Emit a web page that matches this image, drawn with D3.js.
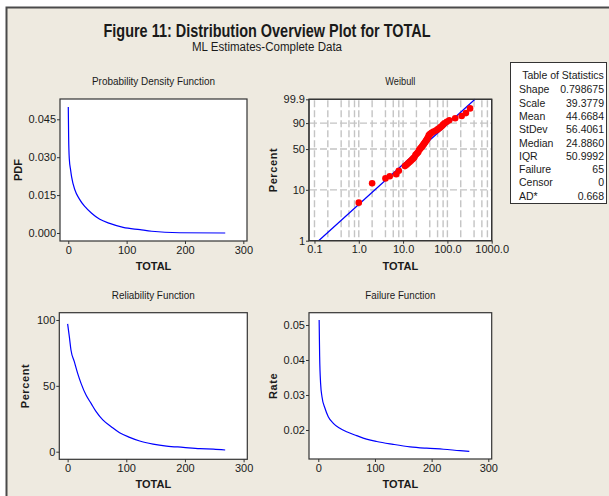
<!DOCTYPE html>
<html lang="en">
<head>
<meta charset="UTF-8">
<title>Distribution Overview Plot for TOTAL</title>
<script src="https://d3js.org/d3.v7.min.js"></script>
<style>
  body { margin: 0; background: #fff; }
  text { font-family: "Liberation Sans", Arial, sans-serif; fill: #1a1a1a; }
  .tick text { font-size: 11px; }
  .tick line { stroke: #333; }
  .axis-label { font-size: 11px; font-weight: bold; }
  .panel-title { font-size: 10.5px; }
  .frame { fill: #fff; stroke: #333; stroke-width: 1.2; }
  .curve { fill: none; stroke: #0000ff; stroke-width: 1.2; }
  .grid { stroke: #c4c4c4; stroke-width: 1.4; stroke-dasharray: 7,3; }
  .stats text { font-size: 10.5px; }
</style>
</head>
<body>
<svg width="609" height="496"></svg>
<script>
// values
const pdfTotal = [0, 0.6, 1.7, 4.0, 5.7, 11.4, 18.3, 28.6, 40, 54, 71, 94, 123, 143, 191, 269];
const pdfValue = [0.0499, 0.0380, 0.0295, 0.0249, 0.0222, 0.0170, 0.0137, 0.0104, 0.0078, 0.0054, 0.0038, 0.0022, 0.0013, 0.0007, 0.0001, 0.0];

const relTotal = [0, 2.9, 5.7, 11.4, 17.1, 22.9, 31.4, 40, 48.6, 60, 74.3, 88.6, 105.7, 122.9, 145.7, 168.6, 197, 225.7, 248.6, 268.6];
const relPercent = [97.0, 87.4, 77.2, 68.4, 59.5, 51.9, 43.0, 36.7, 30.4, 24.1, 19.0, 14.4, 10.9, 8.1, 5.8, 4.3, 3.3, 2.3, 2.0, 1.3];

const hazTotal = [1.5, 2.4, 4.1, 6.5, 11.8, 17.6, 26.5, 38, 50, 67.6, 85, 103, 132, 162, 191, 221, 250, 266.5];
const hazRate = [0.0514, 0.0410, 0.0333, 0.0295, 0.0262, 0.0238, 0.0219, 0.0205, 0.0195, 0.0184, 0.0174, 0.0167, 0.0159, 0.0152, 0.0148, 0.0145, 0.0141, 0.0139];

const wbTotal = [1, 2, 4, 5, 7, 8, 11, 12, 13, 14, 15, 16, 17, 18, 19, 20, 21, 22, 23, 24, 25, 26, 27, 28, 29, 30, 31, 32,
  33, 34, 35, 36, 37, 38, 40, 42, 45, 49, 55, 60, 65, 70, 75, 80, 86, 97, 110, 150, 210, 262, 325];
const wbPercent = [5.66, 13.30, 16.36, 17.89, 19.42, 22.48, 27.06, 28.59, 30.12, 31.65, 33.18, 34.71, 36.24, 37.77,
  40.83, 42.35, 43.88, 45.41, 48.47, 50.00, 51.53, 53.06, 54.59, 56.12, 57.65, 59.17, 60.70, 62.23,
  63.76, 65.29, 66.82, 68.35, 69.88, 72.94, 74.46, 75.99, 77.52, 79.05, 80.58, 82.11, 83.64, 85.17,
  86.70, 88.23, 89.76, 91.28, 92.81, 94.34, 95.87, 97.40, 98.93];
const fitTotal = [0.124, 420];
const fitPercent = [1, 99.9];

const wbXTicks = [0.1, 1, 10, 100, 1000];
const wbXLabels = ["0.1", "1.0", "10.0", "100.0", "1000.0"];
const wbYTicks = [1, 10, 50, 90, 99.9];
const wbYLabels = ["1", "10", "50", "90", "99.9"];

const statLabels = ["Shape", "Scale", "Mean", "StDev", "Median", "IQR", "Failure", "Censor", "AD*"];
const statValues = ["0.798675", "39.3779", "44.6684", "56.4061", "24.8860", "50.9992", "65", "0", "0.668"];

const svg = d3.select("svg");
svg.append("rect").attr("width", 609).attr("height", 496).attr("fill", "#fff");
svg.append("rect").attr("x", 6).attr("y", 7).attr("width", 603).attr("height", 489).attr("fill", "#eeeae0");
svg.append("path").attr("d", "M6.5,496V7.5H609").attr("fill", "none").attr("stroke", "#4a4a4a").attr("stroke-width", 2);

svg.append("text").attr("x", 267).attr("y", 37).attr("text-anchor", "middle")
  .attr("font-size", 18).attr("font-weight", "bold")
  .attr("textLength", 327).attr("lengthAdjust", "spacingAndGlyphs")
  .text("Figure 11: Distribution Overview Plot for TOTAL");
svg.append("text").attr("x", 267).attr("y", 51).attr("text-anchor", "middle")
  .attr("font-size", 12.5)
  .attr("textLength", 150).attr("lengthAdjust", "spacingAndGlyphs")
  .text("ML Estimates-Complete Data");

// frame, title and axis labels of one panel
function panel(box, title, titleLen, yLabel, yLabelX) {
  const g = svg.append("g");
  g.append("rect").attr("class", "frame")
    .attr("x", box.x0).attr("y", box.y0)
    .attr("width", box.x1 - box.x0).attr("height", box.y1 - box.y0);
  const cx = (box.x0 + box.x1) / 2;
  g.append("text").attr("class", "panel-title").attr("x", cx).attr("y", box.y0 - 14)
    .attr("text-anchor", "middle")
    .attr("textLength", titleLen).attr("lengthAdjust", "spacingAndGlyphs")
    .text(title);
  g.append("text").attr("class", "axis-label").attr("x", cx).attr("y", box.y1 + 29)
    .attr("text-anchor", "middle").text("TOTAL");
  g.append("text").attr("class", "axis-label")
    .attr("transform", `translate(${yLabelX},${(box.y0 + box.y1) / 2}) rotate(-90)`)
    .attr("text-anchor", "middle").attr("dy", "0.35em")
    .attr("letter-spacing", yLabel === "PDF" ? 0 : 0.6)
    .text(yLabel);
  return g;
}

function axes(g, box, x, y, xAxis, yAxis) {
  g.append("g").attr("transform", `translate(0,${box.y1})`)
    .call(xAxis.tickSize(3).tickPadding(2))
    .call(a => a.select(".domain").remove());
  g.append("g").attr("transform", `translate(${box.x0},0)`)
    .call(yAxis.tickSize(3).tickPadding(1))
    .call(a => a.select(".domain").remove());
}

// Probability Density Function
const b1 = { x0: 60, x1: 247, y0: 99, y1: 241 };
const g1 = panel(b1, "Probability Density Function", 123, "PDF", 18);
const x1 = d3.scaleLinear().domain([-14.2, 306.3]).range([b1.x0, b1.x1]);
const y1 = d3.scaleLinear().domain([-0.00317, 0.05303]).range([b1.y1, b1.y0]);
g1.append("path").attr("class", "curve")
  .attr("d", d3.line().x(d => x1(d[0])).y(d => y1(d[1])).curve(d3.curveMonotoneX)(d3.zip(pdfTotal, pdfValue)));
axes(g1, b1, x1, y1,
  d3.axisBottom(x1).tickValues([0, 100, 200, 300]),
  d3.axisLeft(y1).tickValues([0, 0.015, 0.03, 0.045]).tickFormat(d3.format(".3f")));

// Weibull probability plot
const b2 = { x0: 309, x1: 491.7, y0: 99.3, y1: 240.7 };
const g2 = panel(b2, "Weibull", 30, "Percent", 273);
const wb = p => Math.log(-Math.log(1 - p / 100));
const x2 = d3.scaleLog().domain([0.0752, 1000]).range([b2.x0, b2.x1]);
const y2 = d3.scaleLinear().domain([wb(1), wb(99.9)]).range([b2.y1, b2.y0]);
const gridX = [];
[0.1, 1, 10, 100].forEach(dec => [1, 2, 4, 6, 8].forEach(k => gridX.push(k * dec)));
g2.append("g").selectAll("line").data(gridX.filter(v => v > 0.08)).join("line")
  .attr("class", "grid")
  .attr("x1", d => x2(d)).attr("x2", d => x2(d))
  .attr("y1", b2.y0 + 1).attr("y2", b2.y1 - 1);
g2.append("g").selectAll("line").data([10, 50, 90]).join("line")
  .attr("class", "grid")
  .attr("x1", b2.x0 + 1).attr("x2", b2.x1 - 1)
  .attr("y1", d => y2(wb(d))).attr("y2", d => y2(wb(d)));
g2.append("path").attr("class", "curve")
  .attr("d", d3.line().x(d => x2(d[0])).y(d => y2(wb(d[1])))(d3.zip(fitTotal, fitPercent)));
g2.append("g").selectAll("circle").data(d3.zip(wbTotal, wbPercent)).join("circle")
  .attr("cx", d => x2(d[0])).attr("cy", d => y2(wb(d[1])))
  .attr("r", 3.3).attr("fill", "#ff0000");
g2.append("rect").attr("x", b2.x0).attr("y", b2.y0)
  .attr("width", b2.x1 - b2.x0).attr("height", b2.y1 - b2.y0)
  .attr("fill", "none").attr("stroke", "#333").attr("stroke-width", 1.2);
axes(g2, b2, x2, y2,
  d3.axisBottom(x2).tickValues(wbXTicks).tickFormat((d, i) => wbXLabels[i]),
  d3.axisLeft(y2).tickValues(wbYTicks.map(wb)).tickFormat((d, i) => wbYLabels[i]));

// Reliability Function
const b3 = { x0: 59.3, x1: 247.3, y0: 312.7, y1: 459.3 };
const g3 = panel(b3, "Reliability Function", 83, "Percent", 25);
const x3 = d3.scaleLinear().domain([-14.2, 306.3]).range([b3.x0, b3.x1]);
const y3 = d3.scaleLinear().domain([-5.77, 105.54]).range([b3.y1, b3.y0]);
g3.append("path").attr("class", "curve")
  .attr("d", d3.line().x(d => x3(d[0])).y(d => y3(d[1])).curve(d3.curveMonotoneX)(d3.zip(relTotal, relPercent)));
axes(g3, b3, x3, y3,
  d3.axisBottom(x3).tickValues([0, 100, 200, 300]),
  d3.axisLeft(y3).tickValues([0, 50, 100]));

// Failure Function
const b4 = { x0: 309, x1: 491.7, y0: 312.7, y1: 459 };
const g4 = panel(b4, "Failure Function", 70, "Rate", 273);
const x4 = d3.scaleLinear().domain([-16.4, 306]).range([b4.x0, b4.x1]);
const y4 = d3.scaleLinear().domain([0.01171, 0.05351]).range([b4.y1, b4.y0]);
g4.append("path").attr("class", "curve")
  .attr("d", d3.line().x(d => x4(d[0])).y(d => y4(d[1])).curve(d3.curveMonotoneX)(d3.zip(hazTotal, hazRate)));
axes(g4, b4, x4, y4,
  d3.axisBottom(x4).tickValues([0, 100, 200, 300]),
  d3.axisLeft(y4).tickValues([0.02, 0.03, 0.04, 0.05]).tickFormat(d3.format(".2f")));

// Table of Statistics
const st = svg.append("g").attr("class", "stats");
st.append("rect").attr("x", 510.5).attr("y", 62.5).attr("width", 96).attr("height", 141)
  .attr("fill", "#fff").attr("stroke", "#333").attr("stroke-width", 1);
st.append("text").attr("x", 563).attr("y", 79).attr("text-anchor", "middle").text("Table of Statistics");
st.selectAll(".lab").data(statLabels).join("text").attr("class", "lab")
  .attr("x", 519).attr("y", (d, i) => 93.3 + i * 13.3).text(d => d);
st.selectAll(".val").data(statValues).join("text").attr("class", "val")
  .attr("x", 604).attr("y", (d, i) => 93.3 + i * 13.3).attr("text-anchor", "end").text(d => d);
</script>
</body>
</html>
